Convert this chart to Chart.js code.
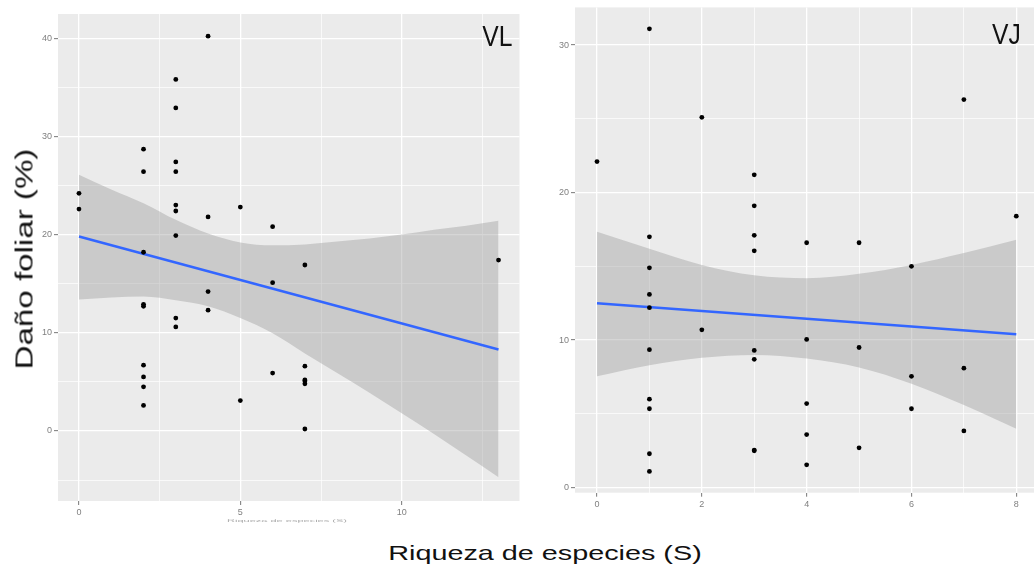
<!DOCTYPE html>
<html>
<head>
<meta charset="utf-8">
<script src="https://cdn.jsdelivr.net/npm/chart.js@4/dist/chart.umd.min.js"></script>
<style>
  html, body { margin: 0; padding: 0; background: #fff; }
  body { width: 1034px; height: 573px; position: relative; overflow: hidden; font-family: "Liberation Sans", Arial, sans-serif; }
  canvas { position: absolute; top: 0; }
  #vl { left: 0; }
  #vj { left: 520px; }
  .lbl { position: absolute; white-space: nowrap; line-height: 1; color: #111; }
</style>
</head>
<body>
<canvas id="vl" width="525" height="530"></canvas>
<canvas id="vj" width="530" height="520"></canvas>

<div class="lbl" style="right:522px; top:21.5px; font-size:29px; transform-origin:right top; transform:scaleX(0.85);">VL</div>
<div class="lbl" style="right:13px; top:19.5px; font-size:29px; transform-origin:right top; transform:scaleX(0.85);">VJ</div>
<div class="lbl" style="left:25px; top:259px; font-size:23px; transform:translate(-50%,-50%) rotate(-90deg) scaleX(1.44);">Daño foliar (%)</div>
<div class="lbl" style="left:545px; top:542px; font-size:21px; transform:translateX(-50%) scaleX(1.37);">Riqueza de especies (S)</div>
<div class="lbl" style="left:287px; top:516px; font-size:10px; color:#aaa; transform:translateX(-50%) scale(1.1,0.3);">Riqueza de especies (S)</div>

<script>
// ---- VL: daño foliar vs riqueza de especies
const vlRiqueza = [0, 0,
  2, 2, 2, 2, 2, 2, 2, 2, 2,
  3, 3, 3, 3, 3, 3, 3, 3, 3,
  4, 4, 4, 4,
  5, 5,
  6, 6, 6,
  7, 7, 7, 7, 7, 7,
  13];
const vlDano = [24.2, 22.6,
  28.7, 26.4, 18.2, 12.9, 12.7, 6.7, 5.5, 4.5, 2.6,
  35.8, 32.9, 27.4, 26.4, 23.0, 22.4, 19.9, 11.5, 10.6,
  40.2, 21.8, 14.2, 12.3,
  22.8, 3.1,
  20.8, 15.1, 5.9,
  16.9, 6.6, 5.2, 5.1, 4.8, 0.2,
  17.4];
const vlAjusteX = [0, 13];
const vlAjusteY = [19.8, 8.3];
const vlBandaX = [0, 1, 2, 3, 4, 5, 6, 7, 8, 9, 10, 11, 12, 13];
const vlBandaSup = [26.1, 24.6, 23.2, 21.5, 20.1, 19.2, 18.9, 19.0, 19.3, 19.6, 20.0, 20.5, 20.9, 21.4];
const vlBandaInf = [13.4, 13.6, 13.7, 13.3, 12.7, 11.5, 9.95, 7.9, 5.9, 3.9, 1.8, -0.3, -2.5, -4.7];

// ---- VJ
const vjRiqueza = [0,
  1, 1, 1, 1, 1, 1, 1, 1, 1, 1,
  2, 2,
  3, 3, 3, 3, 3, 3, 3, 3,
  4, 4, 4, 4, 4,
  5, 5, 5,
  6, 6, 6,
  7, 7, 7,
  8];
const vjDano = [22.1,
  31.1, 17.0, 14.9, 13.1, 12.2, 9.35, 6.0, 5.35, 2.3, 1.1,
  25.1, 10.7,
  21.2, 19.1, 17.1, 16.05, 9.3, 8.7, 2.55, 2.5,
  16.6, 10.05, 5.7, 3.6, 1.55,
  16.6, 9.5, 2.7,
  15.0, 7.55, 5.35,
  26.3, 8.1, 3.85,
  18.4];
const vjAjusteX = [0, 8];
const vjAjusteY = [12.5, 10.4];
const vjBandaX = [0, 1, 2, 3, 4, 5, 6, 7, 8];
const vjBandaSup = [17.35, 16.2, 15.1, 14.4, 14.2, 14.5, 15.1, 15.9, 16.8];
const vjBandaInf = [7.55, 8.3, 8.8, 9.0, 8.75, 8.15, 7.05, 5.6, 4.0];

const toXY = (xs, ys) => xs.map((x, i) => ({ x: x, y: ys[i] }));

// gris de fondo del panel, estilo ggplot
const panelBg = {
  id: "panelBg",
  beforeDraw(chart) {
    const a = chart.chartArea;
    const ctx = chart.ctx;
    ctx.save();
    ctx.fillStyle = "#ebebeb";
    ctx.fillRect(a.left, a.top, a.right - a.left, a.bottom - a.top);
    ctx.restore();
  },
};

function ejes(xr, yr, xMajor, yMajor, yWidth, xHeight) {
  const isMajor = (v, m) => Math.abs(v / m - Math.round(v / m)) < 1e-6;
  const grid = (m) => ({
    color: "#ffffff",
    lineWidth: (c) => (c.tick && isMajor(c.tick.value, m) ? 1.3 : 0.7),
    tickColor: (c) => (c.tick && isMajor(c.tick.value, m) ? "#777" : "rgba(0,0,0,0)"),
    tickLength: 4,
    tickWidth: 1,
  });
  const tk = (m) => ({
    stepSize: m / 2,
    includeBounds: false,
    autoSkip: false,
    maxRotation: 0,
    padding: 2,
    color: "#808080",
    font: { family: "Liberation Sans", size: 9 },
    callback: (v) => (isMajor(v, m) ? String(v) : ""),
  });
  return {
    x: {
      type: "linear", min: xr[0], max: xr[1],
      grid: grid(xMajor), border: { display: false }, ticks: tk(xMajor),
      afterFit: (s) => { s.height = xHeight; },
    },
    y: {
      type: "linear", min: yr[0], max: yr[1],
      grid: grid(yMajor), border: { display: false }, ticks: tk(yMajor),
      afterFit: (s) => { s.width = yWidth; },
    },
  };
}

function panel(id, xs, ys, fx, fy, bx, bhi, blo, scales, pad) {
  new Chart(document.getElementById(id), {
    type: "scatter",
    data: {
      datasets: [
        { data: toXY(xs, ys), backgroundColor: "#000", borderWidth: 0, pointRadius: 2.4 },
        { data: toXY(fx, fy), showLine: true, borderColor: "#3366ff", borderWidth: 2.4, pointRadius: 0 },
        { data: toXY(bx, bhi), showLine: true, borderWidth: 0, pointRadius: 0, tension: 0.4,
          cubicInterpolationMode: "monotone", fill: "+1", backgroundColor: "rgba(153,153,153,0.4)" },
        { data: toXY(bx, blo), showLine: true, borderWidth: 0, pointRadius: 0, tension: 0.4,
          cubicInterpolationMode: "monotone" },
      ],
    },
    options: {
      responsive: false,
      animation: false,
      layout: { padding: pad },
      plugins: { legend: { display: false }, tooltip: { enabled: false } },
      scales: scales,
    },
    plugins: [panelBg],
  });
}

panel("vl", vlRiqueza, vlDano, vlAjusteX, vlAjusteY, vlBandaX, vlBandaSup, vlBandaInf,
  ejes([-0.65, 13.65], [-7.13, 42.46], 5, 10, 58, 29),
  { top: 14, right: 5.5, left: 0, bottom: 0 });

panel("vj", vjRiqueza, vjDano, vjAjusteX, vjAjusteY, vjBandaX, vjBandaSup, vjBandaInf,
  ejes([-0.42, 8.42], [-0.34, 32.55], 2, 10, 55, 27.3),
  { top: 7, right: 11.7, left: 0, bottom: 0 });
</script>
</body>
</html>
